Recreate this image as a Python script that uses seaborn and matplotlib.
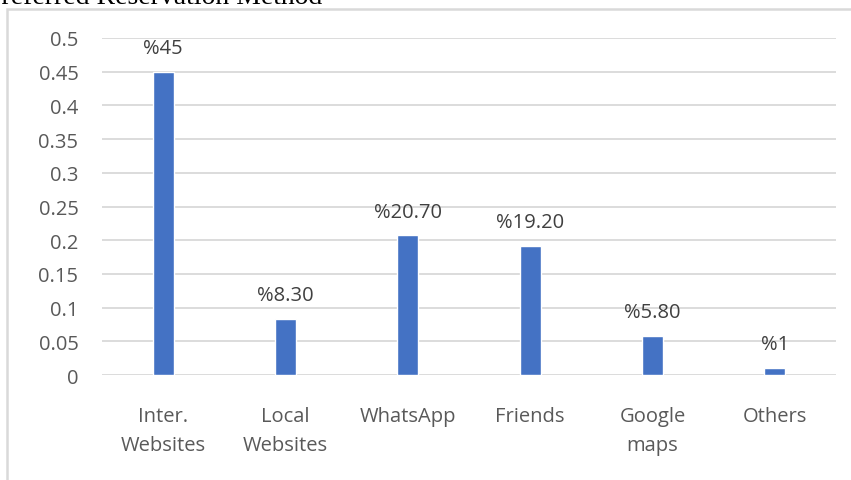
import matplotlib
matplotlib.use("Agg")
import matplotlib.pyplot as plt
import seaborn as sns
import pandas as pd
from matplotlib.patches import Rectangle

categories = ["Inter.\nWebsites", "Local\nWebsites", "WhatsApp", "Friends", "Google\nmaps", "Others"]
values = [0.45, 0.083, 0.207, 0.192, 0.058, 0.01]
labels = ["%45", "%8.30", "%20.70", "%19.20", "%5.80", "%1"]
yticks = [0, 0.05, 0.1, 0.15, 0.2, 0.25, 0.3, 0.35, 0.4, 0.45, 0.5]

df = pd.DataFrame({"cat": categories, "val": values})

sns.set_style("white")
plt.rcParams["font.family"] = ["Open Sans", "DejaVu Sans"]

fig = plt.figure(figsize=(8.51, 4.81), dpi=100)
ax = fig.add_axes([102 / 851, 1 - 376 / 481, 734 / 851, 337 / 481])

sns.barplot(data=df, x="cat", y="val", color="#4472c4", width=0.17, saturation=1, ax=ax)

ax.set_ylim(0, 0.5)
ax.set_xlim(-0.5, 5.5)
ax.set_yticks(yticks)
ax.set_yticklabels([("%g" % t) for t in yticks])
ax.yaxis.grid(True, color="#d9d9d9", lw=1.3)
ax.set_axisbelow(True)
for s in ax.spines.values():
    s.set_visible(False)
ax.tick_params(axis="both", length=0, labelsize=14.5, colors="#595959")
ax.tick_params(axis="y", pad=17)
ax.tick_params(axis="x", pad=22)
for t in ax.get_xticklabels():
    t.set_linespacing(1.65)
ax.set_xlabel("")
ax.set_ylabel("")

for i, (v, lab) in enumerate(zip(values, labels)):
    ax.annotate(lab, (i, v), xytext=(0, 10), textcoords="offset points",
                ha="center", va="bottom", fontsize=14.5, color="#404040")

# outer chart frame (cut at right and bottom)
fig.patches.append(Rectangle((7 / 851, -0.05), 1.0, 1 - 10 / 481 + 0.05,
                             transform=fig.transFigure, fill=False,
                             edgecolor="#d9d9d9", lw=1.8))

fig.text(-0.016, 1 - 4 / 481, "Preferred Reservation Method", family="Liberation Serif",
         fontsize=20, color="black", ha="left", va="baseline")

fig.savefig("out.png", dpi=100)
